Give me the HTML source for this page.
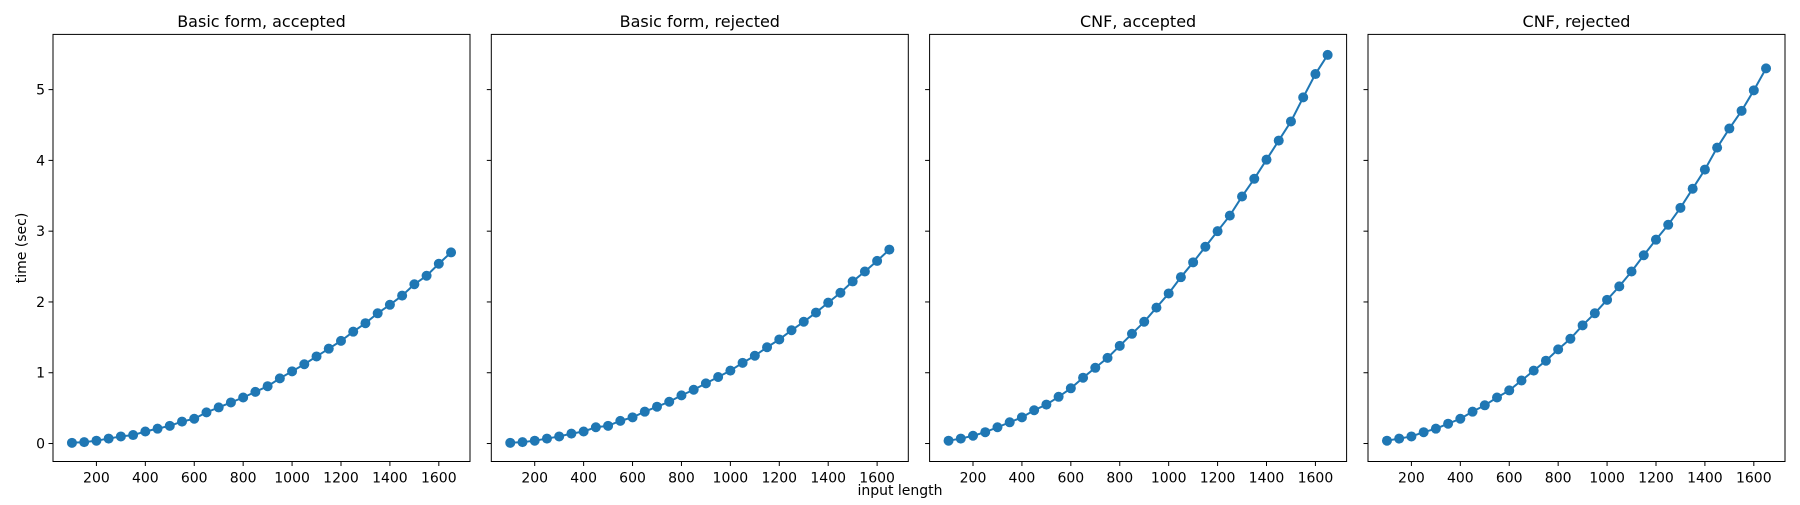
<!DOCTYPE html>
<html><head><meta charset="utf-8"><style>
html,body{margin:0;padding:0;background:#fff;}
svg text{font-family:"DejaVu Sans","Liberation Sans",sans-serif;fill:#000;}
</style></head><body>
<svg id="chart" width="1800" height="500" viewBox="0 0 1800 500" xmlns="http://www.w3.org/2000/svg"></svg>
<script>
const xs = [100,150,200,250,300,350,400,450,500,550,600,650,700,750,800,850,900,950,1000,1050,1100,1150,1200,1250,1300,1350,1400,1450,1500,1550,1600,1650];
const basicAccepted = [0.01,0.02,0.04,0.07,0.10,0.12,0.17,0.21,0.25,0.31,0.35,0.44,0.51,0.58,0.65,0.73,0.81,0.92,1.02,1.12,1.23,1.34,1.45,1.58,1.70,1.84,1.96,2.09,2.25,2.37,2.54,2.70];
const basicRejected = [0.01,0.02,0.04,0.07,0.10,0.14,0.17,0.23,0.25,0.32,0.37,0.45,0.52,0.59,0.68,0.76,0.85,0.94,1.03,1.14,1.24,1.36,1.47,1.60,1.72,1.85,1.99,2.13,2.29,2.43,2.58,2.74];
const cnfAccepted = [0.04,0.07,0.11,0.16,0.23,0.30,0.37,0.47,0.55,0.66,0.78,0.93,1.07,1.21,1.38,1.55,1.72,1.92,2.12,2.35,2.56,2.78,3.00,3.22,3.49,3.74,4.01,4.28,4.55,4.89,5.22,5.49];
const cnfRejected = [0.04,0.07,0.10,0.16,0.21,0.28,0.35,0.45,0.54,0.65,0.75,0.89,1.03,1.17,1.33,1.48,1.67,1.84,2.03,2.22,2.43,2.66,2.88,3.09,3.33,3.60,3.87,4.18,4.45,4.70,4.99,5.30];
const titles = ["Basic form, accepted","Basic form, rejected","CNF, accepted","CNF, rejected"];
const xTicks = [200,400,600,800,1000,1200,1400,1600];
const yTicks = [0,1,2,3,4,5];

const NS = "http://www.w3.org/2000/svg";
const svg = document.getElementById("chart");
const series = [basicAccepted, basicRejected, cnfAccepted, cnfRejected];
const names = ["basic-accepted","basic-rejected","cnf-accepted","cnf-rejected"];
const panelLefts = [53, 491.3, 929.6, 1368];
const panelW = 417, plotTop = 34.4, plotBottom = 461.5;
const xMin = 22.5, xMax = 1727.5, yMin = -0.254, yMax = 5.78;
function mk(tag, attrs, parent){ const e=document.createElementNS(NS,tag); for(const k in attrs) e.setAttribute(k,attrs[k]); (parent||svg).appendChild(e); return e; }

series.forEach((data, p) => {
  const L = panelLefts[p];
  const sx = v => L + (v - xMin) / (xMax - xMin) * panelW;
  const sy = v => plotBottom - (v - yMin) / (yMax - yMin) * (plotBottom - plotTop);
  const g = mk("g", {});
  
  
  const t = mk("text", {x: L + panelW/2, y: 27, "text-anchor":"middle", "font-size":"16"}, g);
  t.textContent = titles[p];
  
  
  xTicks.forEach(v => {
    const x = sx(v);
    mk("line", {x1:x, x2:x, y1:plotBottom, y2:plotBottom+4.5, stroke:"#000", "stroke-width":"1"}, g);
    const lt = mk("text", {x:x, y:plotBottom+21, "text-anchor":"middle", "font-size":"14"}, g);
    lt.textContent = v;
    
    
  });
  yTicks.forEach(v => {
    const y = sy(v);
    mk("line", {x1:L-4.5, x2:L, y1:y, y2:y, stroke:"#000", "stroke-width":"1"}, g);
    if (p === 0) {
      const lt = mk("text", {x:L-8, y:y+5, "text-anchor":"end", "font-size":"14"}, g);
      lt.textContent = v;
      
      
    }
  });
  const pts = data.map((v,i) => sx(xs[i]).toFixed(2) + "," + sy(v).toFixed(2)).join(" ");
  const line = mk("polyline", {points: pts, fill:"none", stroke:"#1f77b4", "stroke-width":"2"}, g);
  
  
  data.forEach((v,i) => {
    const c = mk("circle", {cx: sx(xs[i]), cy: sy(v), r: 5, fill:"#1f77b4"}, g);
    
    
  });
  const frame = mk("rect", {x:L, y:plotTop, width:panelW, height:plotBottom-plotTop, fill:"none", stroke:"#000", "stroke-width":"1"}, g);
  
  
});
const xl = mk("text", {x: 900, y: 495, "text-anchor":"middle", "font-size":"14"});
xl.textContent = "input length";


const yl = mk("text", {x: 0, y: 0, "text-anchor":"middle", "font-size":"14", transform:"translate(26,248) rotate(-90)"});
yl.textContent = "time (sec)";


</script>
</body></html>
